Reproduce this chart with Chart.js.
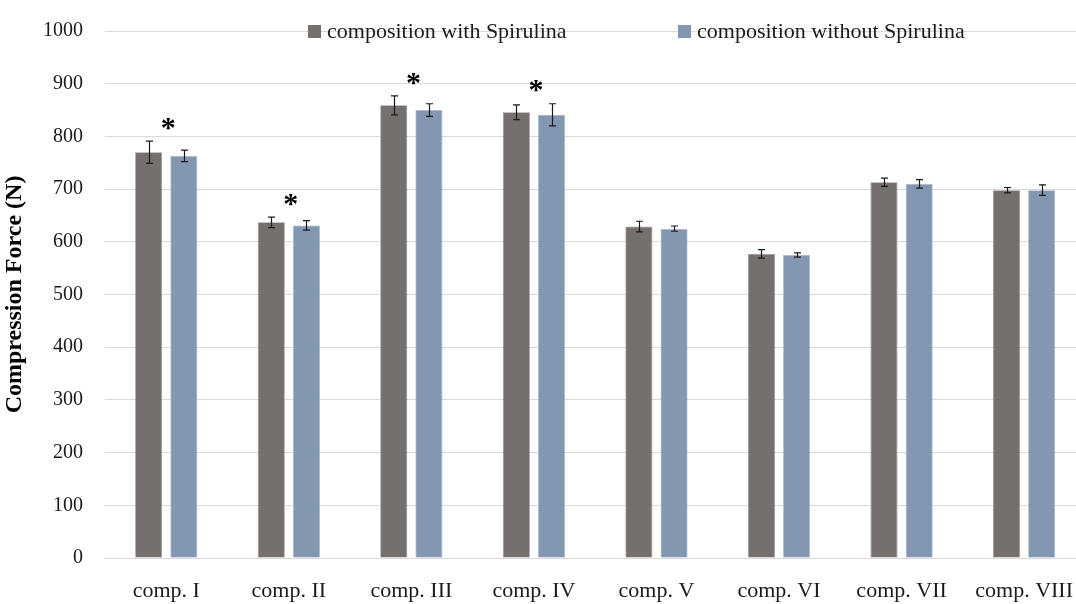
<!DOCTYPE html>
<html>
<head>
<meta charset="utf-8">
<script src="https://cdn.jsdelivr.net/npm/chart.js@4"></script>
<style>
  html, body { margin: 0; padding: 0; background: #ffffff; overflow: hidden; }
  #wrap { width: 1076px; height: 604px; overflow: hidden; }
</style>
</head>
<body>
<div id="wrap"><canvas id="chart" width="1093" height="604"></canvas></div>
<script>
const categories = ['comp. I', 'comp. II', 'comp. III', 'comp. IV', 'comp. V', 'comp. VI', 'comp. VII', 'comp. VIII'];
const withSpirulina = [770, 637, 859, 846, 629, 577, 713, 698];
const withSpirulinaErr = [21, 10, 18, 14, 10, 8, 8, 5];
const withoutSpirulina = [763, 631, 850, 841, 625, 575, 710, 698];
const withoutSpirulinaErr = [11, 9, 12, 21, 5, 4, 8, 10];
const significant = [true, true, true, true, false, false, false, false];
const yTicks = [0, 100, 200, 300, 400, 500, 600, 700, 800, 900, 1000];

const serif = "'Liberation Serif', 'DejaVu Serif', serif";

// error bars and significance stars
const extrasPlugin = {
    id: 'extras',
    afterDatasetsDraw(chart) {
        const ctx = chart.ctx;
        const y = chart.scales.y;
        const x = chart.scales.x;
        const errs = [withSpirulinaErr, withoutSpirulinaErr];
        ctx.save();
        ctx.strokeStyle = '#1a1a1a';
        ctx.lineWidth = 1.2;
        chart.data.datasets.forEach((ds, i) => {
            const meta = chart.getDatasetMeta(i);
            meta.data.forEach((bar, j) => {
                const v = ds.data[j];
                const e = errs[i][j];
                const top = y.getPixelForValue(v + e);
                const bot = y.getPixelForValue(v - e);
                const cx = Math.round(bar.x) + 0.5;
                ctx.beginPath();
                ctx.moveTo(cx, top); ctx.lineTo(cx, bot);
                ctx.moveTo(cx - 3.5, top); ctx.lineTo(cx + 3.5, top);
                ctx.moveTo(cx - 3.5, bot); ctx.lineTo(cx + 3.5, bot);
                ctx.stroke();
            });
        });
        ctx.fillStyle = '#000000';
        ctx.font = "bold 30px " + serif;
        ctx.textAlign = 'center';
        ctx.textBaseline = 'middle';
        significant.forEach((s, j) => {
            if (!s) return;
            const hi = Math.max(withSpirulina[j] + withSpirulinaErr[j], withoutSpirulina[j] + withoutSpirulinaErr[j]);
            ctx.fillText('*', x.getPixelForValue(j) + 2, y.getPixelForValue(hi) - 12);
        });
        ctx.restore();
    }
};

// legend drawn over the top gridline
const legendPlugin = {
    id: 'topLegend',
    afterDraw(chart) {
        const ctx = chart.ctx;
        const pos = [308, 678];
        ctx.save();
        ctx.font = "22px " + serif;
        ctx.textBaseline = 'middle';
        chart.data.datasets.forEach((ds, i) => {
            const lx = pos[i];
            ctx.fillStyle = ds.backgroundColor;
            ctx.fillRect(lx, 25, 13, 13);
            ctx.fillStyle = '#1a1a1a';
            ctx.fillText(ds.label, lx + 19, 32);
        });
        ctx.restore();
    }
};

new Chart(document.getElementById('chart'), {
    type: 'bar',
    data: {
        labels: categories,
        datasets: [
            {
                label: 'composition with Spirulina',
                data: withSpirulina,
                backgroundColor: '#756f6e',
                borderColor: '#9a9594',
                borderWidth: 0.8
            },
            {
                label: 'composition without Spirulina',
                data: withoutSpirulina,
                backgroundColor: '#8497b0',
                borderColor: '#a9b8cb',
                borderWidth: 0.8
            }
        ]
    },
    options: {
        responsive: false,
        animation: false,
        devicePixelRatio: 1,
        layout: { padding: { top: 0, right: 0, left: 0, bottom: 0 } },
        datasets: {
            bar: { categoryPercentage: 0.574, barPercentage: 0.77 }
        },
        plugins: {
            legend: { display: false },
            tooltip: { enabled: false }
        },
        scales: {
            x: {
                grid: { display: false, drawTicks: false },
                border: { display: false },
                ticks: {
                    color: '#1a1a1a',
                    font: { family: serif, size: 22 },
                    padding: 20,
                    maxRotation: 0,
                    autoSkip: false
                },
                afterFit(scale) { scale.height = 46; }
            },
            y: {
                min: 0,
                max: 1000,
                afterBuildTicks(scale) { scale.ticks = yTicks.map(v => ({ value: v })); },
                grid: { color: '#d9d9d9', lineWidth: 1, drawTicks: false },
                border: { display: false },
                ticks: {
                    color: '#1a1a1a',
                    font: { family: serif, size: 20 },
                    padding: 22,
                    callback: v => String(v)
                },
                title: {
                    display: true,
                    text: 'Compression Force (N)',
                    color: '#000000',
                    font: { family: serif, size: 24, weight: 'bold' },
                    padding: { top: 0, bottom: 0 }
                },
                afterFit(scale) {
                    scale.width = 105;
                    scale.paddingTop = 31;
                }
            }
        }
    },
    plugins: [extrasPlugin, legendPlugin]
});
</script>
</body>
</html>
